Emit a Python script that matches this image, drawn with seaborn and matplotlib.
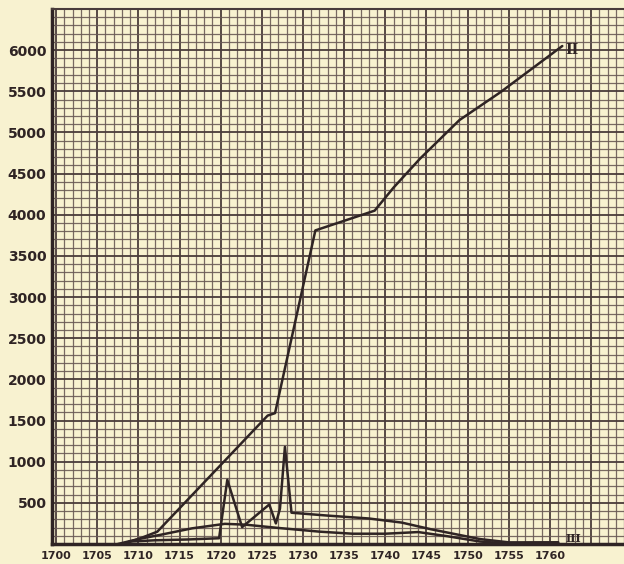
import matplotlib
matplotlib.use("Agg")
import matplotlib.pyplot as plt
import numpy as np
import pandas as pd
import seaborn as sns

# Series (year, value)
years_ii = [1708, 1710, 1712.3, 1725.7, 1726.6, 1731.5, 1738.7, 1741, 1744.2, 1749, 1754, 1761.5]
values_ii = [0, 60, 150, 1560, 1590, 3810, 4050, 4330, 4680, 5150, 5490, 6050]

years_i = [1707.5, 1710, 1712.6, 1716.5, 1720.5, 1723, 1727, 1732, 1736, 1740, 1744, 1747.5, 1751.5, 1755, 1761]
values_i = [0, 60, 110, 190, 245, 235, 195, 150, 125, 125, 145, 95, 30, 5, 20]

years_iii = [1708, 1709, 1712, 1716, 1719.8, 1720.8, 1722.6, 1725.9, 1726.7, 1727.2, 1727.8,
             1728.6, 1733, 1738, 1742, 1745.5, 1748, 1751.5, 1755, 1761]
values_iii = [0, 30, 45, 55, 70, 780, 205, 480, 250, 430, 1180,
              380, 345, 310, 260, 180, 130, 60, 20, 20]

x_tick_years = list(range(1700, 1765, 5))
y_tick_values = list(range(500, 6500, 500))

PAPER = "#f8f2d0"
GRID = "#6a5a55"
GRID_MAJOR = "#4a3c3a"
INK = "#2f2424"

sns.set_style("white", {"axes.facecolor": PAPER, "figure.facecolor": PAPER})
plt.rcParams["font.family"] = ["DejaVu Sans"]

fig = plt.figure(figsize=(6.24, 5.64), dpi=100)
ax = fig.add_axes([52 / 624, 20 / 564, 572 / 624, 535 / 564])

df = pd.concat([
    pd.DataFrame({"year": years_ii, "value": values_ii, "series": "II"}),
    pd.DataFrame({"year": years_i, "value": values_i, "series": "I"}),
    pd.DataFrame({"year": years_iii, "value": values_iii, "series": "III"}),
])

for name, grp in df.groupby("series"):
    sns.lineplot(data=grp, x="year", y="value", ax=ax, color=INK, linewidth=1.8,
                 sort=False, legend=False, zorder=5)

ax.set_xlim(1699.5, 1769.0)
ax.set_ylim(0, 6500)

# graph paper: fine squares every year / 100 units, heavier every 5 years / 500 units
ax.set_xticks(np.arange(1700, 1770, 5))
ax.set_xticks(np.arange(1700, 1770, 1), minor=True)
ax.set_yticks(np.arange(0, 6501, 500))
ax.set_yticks(np.arange(0, 6501, 100), minor=True)
ax.grid(which="minor", color=GRID, linewidth=0.9, alpha=0.9)
ax.grid(which="major", color=GRID_MAJOR, linewidth=1.3)
ax.set_axisbelow(True)

ax.set_xticklabels([str(y) if y in x_tick_years else "" for y in np.arange(1700, 1770, 5)])
ax.set_yticklabels([str(v) if v in y_tick_values else "" for v in np.arange(0, 6501, 500)])
ax.tick_params(which="both", length=0)
ax.tick_params(axis="x", pad=5, labelsize=8, labelcolor=INK)
ax.tick_params(axis="y", pad=4, labelsize=10, labelcolor=INK)
for lab in ax.get_xticklabels() + ax.get_yticklabels():
    lab.set_fontweight("bold")

ax.set_xlabel("")
ax.set_ylabel("")
for side in ["left", "bottom"]:
    ax.spines[side].set_linewidth(2.5)
    ax.spines[side].set_color(INK)
ax.spines["top"].set_linewidth(1.5)
ax.spines["top"].set_color(GRID_MAJOR)
ax.spines["right"].set_visible(False)

ax.text(1761.9, 6000, "II", fontsize=10, fontweight="bold", family="DejaVu Serif",
        color=INK, va="center", ha="left", zorder=6)
ax.text(1761.9, 70, "III", fontsize=8, fontweight="bold", family="DejaVu Serif",
        color=INK, va="center", ha="left", zorder=6)

fig.savefig("out.png", dpi=100, facecolor=PAPER)
